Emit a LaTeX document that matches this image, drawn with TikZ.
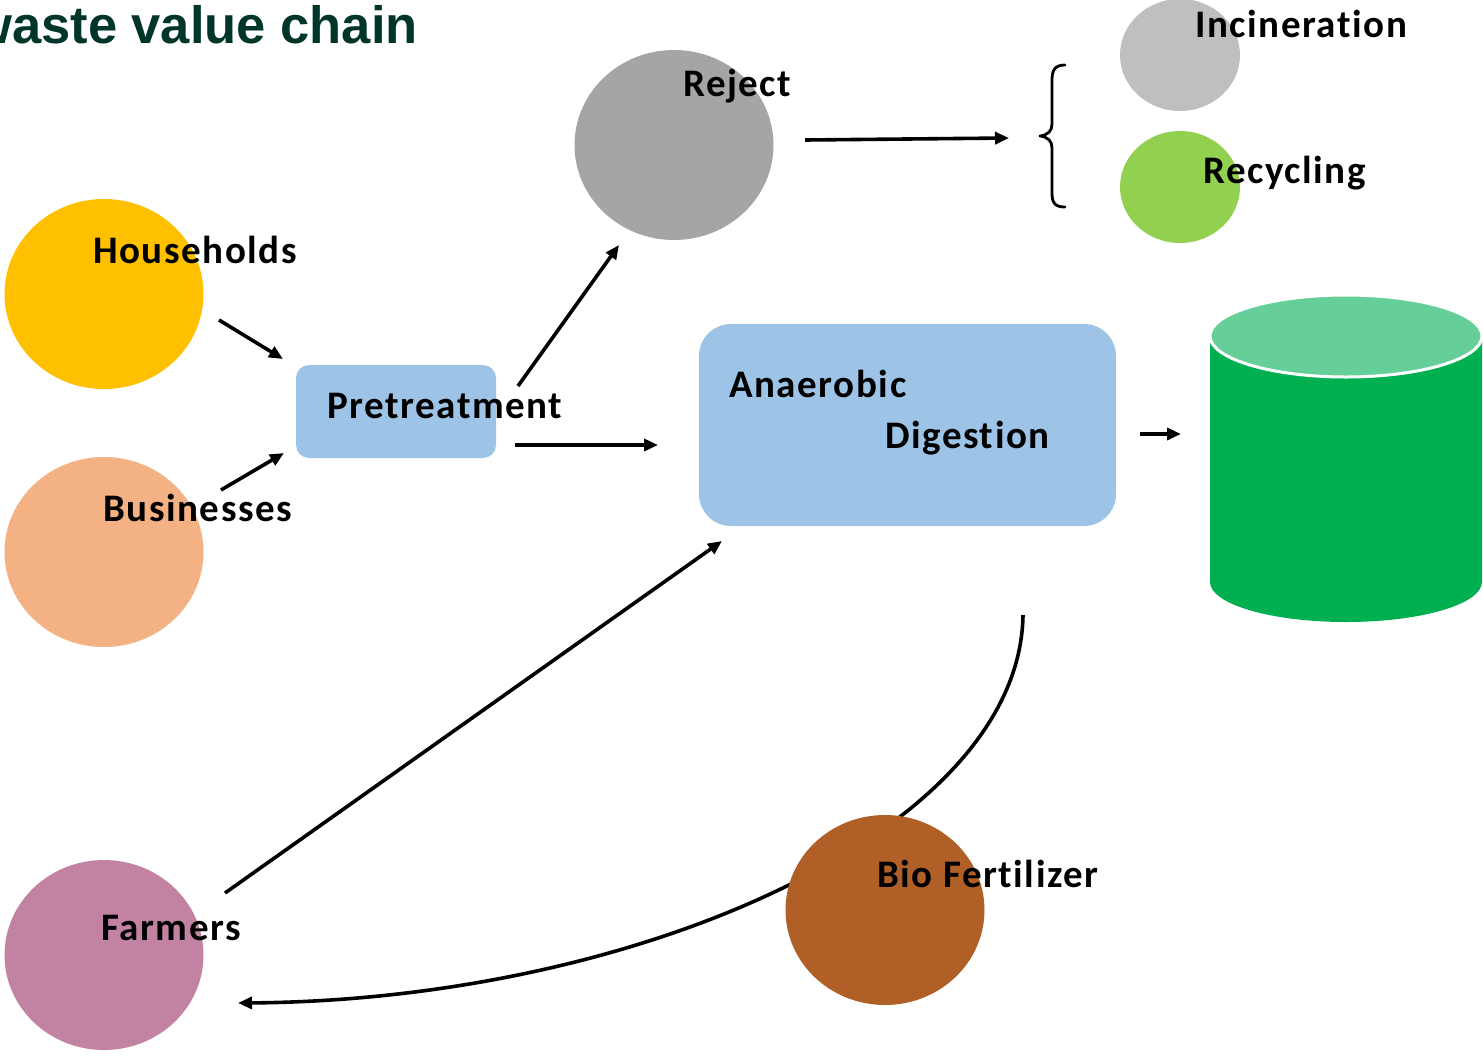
\documentclass[tikz,border=0pt]{standalone}
\usepackage{fontspec}
\setmainfont{Carlito}[LetterSpace=4, Ligatures={NoCommon}]
\newfontfamily\titlefont{Liberation Sans}
\usetikzlibrary{arrows.meta}
\definecolor{hhyellow}{HTML}{FFC000}
\definecolor{bizpeach}{HTML}{F4B183}
\definecolor{farmpink}{HTML}{C283A3}
\definecolor{rejgray}{HTML}{A5A5A5}
\definecolor{incgray}{HTML}{BFBFBF}
\definecolor{recgreen}{HTML}{92D050}
\definecolor{biobrown}{HTML}{B05F27}
\definecolor{boxblue}{HTML}{9DC3E6}
\definecolor{cylgreen}{HTML}{00B050}
\definecolor{cyltop}{HTML}{66CF99}
\definecolor{titlegreen}{HTML}{00352A}
\tikzset{
  blob/.style={ellipse, draw=none, inner sep=0pt},
  lbl/.style={anchor=base west, inner sep=0pt, font=\bfseries\fontsize{39}{42}\selectfont},
  procbox/.style={draw=none, fill=boxblue},
  flow/.style={line width=3.6pt, -{Triangle[length=14pt,width=12pt]}},
}
\usetikzlibrary{shapes.geometric}
\begin{document}
\begin{tikzpicture}[x=1pt,y=-1pt]
\useasboundingbox (0,0) rectangle (1483,1055);
\begin{scope}
\clip (0,0) rectangle (1483,1055);
\node[anchor=base east, inner sep=0pt, text=titlegreen, font=\titlefont\bfseries\fontsize{52.5}{58}\selectfont] (title) at (418,43) {waste value chain};

% circles
\node[blob, fill=hhyellow, minimum width=199pt, minimum height=190pt] (hh) at (104,294) {};
\node[blob, fill=bizpeach, minimum width=199pt, minimum height=190pt] (biz) at (104,552) {};
\node[blob, fill=farmpink, minimum width=199pt, minimum height=190pt] (farm) at (104,955) {};
\node[blob, fill=rejgray, minimum width=199pt, minimum height=190pt] (rej) at (674,145) {};
\node[blob, fill=incgray, minimum width=120pt, minimum height=112pt] (inc) at (1180,55) {};
\node[blob, fill=recgreen, minimum width=120pt, minimum height=112pt] (rec) at (1180,187) {};

% boxes
\fill[boxblue, rounded corners=13pt] (296,365) rectangle (496,458);
\node[inner sep=0pt, minimum width=200pt, minimum height=93pt] (pre) at (396,411.5) {};
\fill[boxblue, rounded corners=32pt] (699,324) rectangle (1116,526);
\node[inner sep=0pt, minimum width=417pt, minimum height=202pt] (ad) at (907.5,425) {};

% cylinder
\fill[cylgreen] (1210,336) -- (1210,582) arc[start angle=180, end angle=360, x radius=136pt, y radius=40pt] -- (1482,336) -- cycle;
\fill[cyltop, draw=white, line width=3pt] (1346,336) ellipse[x radius=136pt, y radius=41pt];
\node[inner sep=0pt, minimum width=272pt, minimum height=326pt] (cyl) at (1346,459) {};

% brace
\coordinate (bt) at (1065,65);
\coordinate (bb) at (1065,207);
\node[inner sep=0pt, minimum width=28pt, minimum height=145pt] (brace) at (1052,136) {};
\draw[line width=2.8pt, line cap=round, line join=round]
  (bt) .. controls (1055,65) and (1052,70) .. (1052,80)
  -- (1052,124) .. controls (1052,131) and (1048,135) .. (1040,136)
  .. controls (1048,137) and (1052,141) .. (1052,148)
  -- (1052,193) .. controls (1052,203) and (1055,207) .. (bb);

% connectors
\coordinate (a1s) at (219,320); \coordinate (a1e) at (283,359);
\coordinate (a2s) at (221,490); \coordinate (a2e) at (284,453);
\coordinate (a3s) at (518,386); \coordinate (a3e) at (619,245);
\coordinate (a4s) at (515,445); \coordinate (a4e) at (658,445);
\coordinate (a5s) at (805,140); \coordinate (a5e) at (1009,138);
\coordinate (a6s) at (1140,434); \coordinate (a6e) at (1181,434);
\coordinate (a7s) at (225,893); \coordinate (a7e) at (722,541);
\coordinate (a8s) at (1023,615); \coordinate (a8e) at (238,1003);
\draw[flow] (a1s) -- (a1e);
\draw[flow] (a2s) -- (a2e);
\draw[flow] (a3s) -- (a3e);
\draw[flow] (a4s) -- (a4e);
\draw[flow] (a5s) -- (a5e);
\draw[flow] (a6s) -- (a6e);
\draw[flow] (a7s) -- (a7e);
\draw[flow] (a8s) .. controls (1020,830) and (640,1000) .. (a8e);

\node[blob, fill=biobrown, minimum width=199pt, minimum height=190pt] (bio) at (885,910) {};

% labels
\node[lbl] (lhh) at (93,263) {Households};
\node[lbl] (lbiz) at (103,521) {Businesses};
\node[lbl] (lfarm) at (101,940) {Farmers};
\node[lbl] (lrej) at (683,96) {Reject};
\node[lbl] (linc) at (1195,37) {Incineration};
\node[lbl] (lrec) at (1203,183) {Recycling};
\node[lbl] (lbio) at (877,887) {Bio Fertilizer};
\node[lbl] (lpre) at (327,418) {Pretreatment};
\node[lbl] (lad1) at (729,397) {Anaerobic};
\node[lbl] (lad2) at (885,448) {Digestion};
\end{scope}
\end{tikzpicture}
\end{document}
